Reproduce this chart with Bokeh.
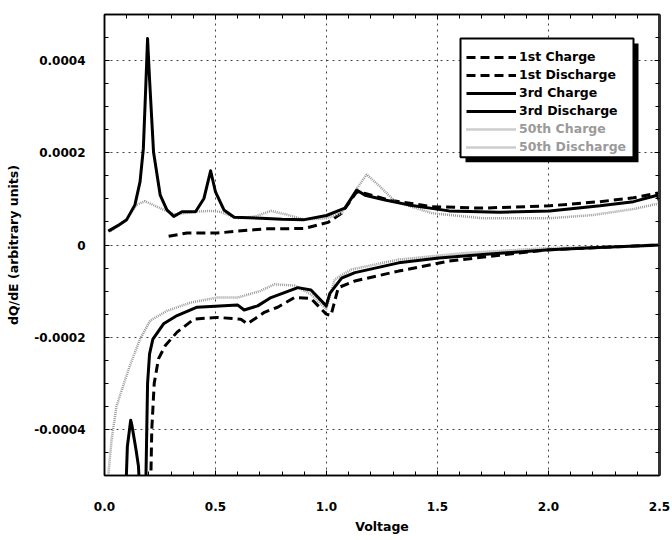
from bokeh.plotting import figure
from bokeh.models import (FixedTicker, LinearAxis, Range1d, Legend, LegendItem,
                          BoxAnnotation, NumeralTickFormatter, CustomJSTickFormatter)
from bokeh.embed import file_html
from bokeh.resources import INLINE

# ---------------- data (Voltage, dQ/dE) ----------------
ch1_v = [0.289, 0.372, 0.508, 0.60, 0.72, 0.80, 0.90, 1.007, 1.068, 1.136, 1.174,
         1.28, 1.476, 1.703, 2.005, 2.232, 2.383, 2.497]
ch1_q = [0.000019, 0.000026, 0.000026, 0.000030, 0.000035, 0.000035, 0.000036,
         0.000049, 0.000069, 0.000115, 0.000112, 0.0000975, 0.000083, 0.000080,
         0.000085, 0.000094, 0.0001025, 0.000113]

dis1_v = [0.205, 0.209, 0.213, 0.224, 0.243, 0.274, 0.327, 0.402, 0.508, 0.614, 0.644,
          0.72, 0.78, 0.856, 0.93, 0.999, 1.02, 1.053, 1.128, 1.325, 1.552, 1.779,
          2.005, 2.25, 2.5]
dis1_q = [-0.00055, -0.00050, -0.00040, -0.00030, -0.000247, -0.000218, -0.000189,
          -0.000161, -0.000157, -0.000161, -0.000171, -0.000146, -0.000135, -0.000114,
          -0.000116, -0.000150, -0.000153, -0.0000925, -0.000078, -0.0000566,
          -0.000035, -0.0000222, -0.0000101, -0.000005, 0.0]

ch3_v = [0.017, 0.06, 0.10, 0.137, 0.16, 0.175, 0.186, 0.194, 0.203, 0.221, 0.251,
         0.281, 0.312, 0.349, 0.41, 0.448, 0.478, 0.50, 0.538, 0.584, 0.705, 0.80,
         0.90, 1.0, 1.083, 1.136, 1.174, 1.264, 1.37, 1.552, 1.779, 2.005, 2.232,
         2.383, 2.49, 2.5]
ch3_q = [0.000030, 0.000042, 0.000055, 0.000087, 0.000137, 0.000209, 0.000345,
         0.000448, 0.000359, 0.000201, 0.000108, 0.000076, 0.000062, 0.000072,
         0.000072, 0.000101, 0.000161, 0.000115, 0.000076, 0.000060, 0.000058,
         0.000056, 0.000055, 0.000064, 0.000080, 0.000119, 0.000108, 0.0000975,
         0.000087, 0.000074, 0.000071, 0.000074, 0.000085, 0.000094, 0.000108,
         0.000095]

dis3_v = [0.095, 0.103, 0.118, 0.123, 0.142, 0.153, 0.16, 0.185, 0.187, 0.194, 0.203,
          0.218, 0.266, 0.327, 0.417, 0.599, 0.629, 0.69, 0.75, 0.871, 0.93, 0.999,
          1.015, 1.068, 1.128, 1.325, 1.506, 1.703, 2.005, 2.2, 2.5]
dis3_q = [-0.00055, -0.000437, -0.000380, -0.000390, -0.000444, -0.000480, -0.00055,
          -0.00055, -0.000497, -0.000300, -0.000236, -0.000204, -0.000171, -0.000153,
          -0.000135, -0.000130, -0.000141, -0.000132, -0.000114, -0.0000925,
          -0.0000975, -0.000132, -0.000105, -0.000072, -0.000060, -0.0000387,
          -0.000028, -0.0000208, -0.0000101, -0.000006, 0.0]

ch50_v = [0.027, 0.06, 0.099, 0.144, 0.182, 0.264, 0.317, 0.40, 0.478, 0.52, 0.60,
          0.68, 0.75, 0.82, 0.90, 1.0, 1.068, 1.136, 1.181, 1.234, 1.31, 1.476,
          1.703, 2.005, 2.2, 2.383, 2.497]
ch50_q = [0.000030, 0.000042, 0.000055, 0.000087, 0.000095, 0.000077, 0.000066,
          0.000072, 0.000074, 0.000072, 0.000058, 0.000062, 0.000074, 0.000066,
          0.000055, 0.000058, 0.000069, 0.000122, 0.000153, 0.000130, 0.000094,
          0.000069, 0.000058, 0.000058, 0.000065, 0.000078, 0.000090]

dis50_v = [0.012, 0.017, 0.032, 0.054, 0.085, 0.115, 0.16, 0.206, 0.281, 0.387, 0.508,
           0.6, 0.70, 0.765, 0.856, 0.93, 0.999, 1.037, 1.113, 1.325, 1.627, 2.005,
           2.44, 2.5]
dis50_q = [-0.00055, -0.00050, -0.000422, -0.000350, -0.000304, -0.000261, -0.000204,
           -0.000164, -0.000143, -0.000125, -0.000114, -0.000114, -0.000100,
           -0.0000853, -0.000088, -0.000107, -0.000139, -0.0000746, -0.000053,
           -0.0000316, -0.0000172, -0.0000065, -0.0000029, 0.0]

x_major = [0.0, 0.5, 1.0, 1.5, 2.0, 2.5]
y_major = [-0.0004, -0.0002, 0.0, 0.0002, 0.0004]
y_labels = ["-0.0004", "-0.0002", "0", "0.0002", "0.0004"]
x_minor = [i / 10 for i in range(0, 26)]
y_minor = [i * 0.00005 for i in range(-10, 11)]

# ---------------- figure ----------------
FONT = "DejaVu Sans"
X0, X1, Y0, Y1 = 0.0, 2.5, -0.0005, 0.0005
OFF = 2                      # observed page offset of the canvas
W, H = 670, 536
BL, BR, BT, BB = 104, 11, 14, 60

p = figure(width=W, height=H, x_range=Range1d(X0, X1), y_range=Range1d(Y0, Y1),
           output_backend="svg", toolbar_location=None,
           min_border_left=BL, min_border_right=BR, min_border_top=BT,
           min_border_bottom=BB, background_fill_color="white",
           border_fill_color="white")
p.outline_line_color = "black"
p.outline_line_width = 1.5

xt = FixedTicker(ticks=x_major, minor_ticks=x_minor)
yt = FixedTicker(ticks=y_major, minor_ticks=y_minor)

xa = p.xaxis[0]
xa.ticker = xt
xa.formatter = NumeralTickFormatter(format="0.0")
xa.axis_label = "Voltage"
ya = p.yaxis[0]
ya.ticker = yt
ya.major_label_overrides = dict(zip(y_major, y_labels))
ya.axis_label = "dQ/dE (arbitrary units)"

for ax in (xa, ya):
    ax.axis_line_color = "black"
    ax.axis_line_width = 1.5
    ax.major_tick_out = 0
    ax.major_tick_in = 5
    ax.minor_tick_out = 0
    ax.minor_tick_in = 4
    ax.major_tick_line_color = "black"
    ax.minor_tick_line_color = "black"
    ax.major_label_text_font = FONT
    ax.major_label_text_font_style = "bold"
    ax.major_label_text_font_size = "12px"
    ax.major_label_text_color = "black"
    ax.axis_label_text_font = FONT
    ax.axis_label_text_font_style = "bold"
    ax.axis_label_text_font_size = "12.5px"
    ax.axis_label_text_color = "black"
xa.major_label_standoff = 26
xa.axis_label_standoff = 5
ya.major_label_standoff = 19
ya.axis_label_standoff = 10

blank = CustomJSTickFormatter(code="return ''")
top = LinearAxis(ticker=xt, formatter=blank, major_label_standoff=0,
                 major_tick_out=0, major_tick_in=5, minor_tick_out=0, minor_tick_in=4,
                 axis_line_width=1.5)
right = LinearAxis(ticker=yt, formatter=blank, major_label_standoff=0,
                   major_tick_out=0, major_tick_in=5, minor_tick_out=0, minor_tick_in=4,
                   axis_line_width=3, axis_line_color="#333333")
p.add_layout(top, "above")
p.add_layout(right, "right")

p.xgrid[0].ticker = xt
p.ygrid[0].ticker = yt
for g in (p.xgrid[0], p.ygrid[0]):
    g.grid_line_color = "#444444"
    g.grid_line_dash = "2 4"
    g.grid_line_width = 1

# ---------------- curves ----------------
r_ch1 = p.line(ch1_v, ch1_q, line_color="black", line_width=3, line_dash="9 5")
r_dis1 = p.line(dis1_v, dis1_q, line_color="black", line_width=3, line_dash="9 5")
r_ch50 = p.line(ch50_v, ch50_q, line_color="#9a9a9a", line_width=2.5, line_dash="1 1")
r_dis50 = p.line(dis50_v, dis50_q, line_color="#9a9a9a", line_width=2.5, line_dash="1 1")
r_ch3 = p.line(ch3_v, ch3_q, line_color="black", line_width=3, line_join="round")
r_dis3 = p.line(dis3_v, dis3_q, line_color="black", line_width=3, line_join="round")

# ---------------- legend box with shadow ----------------
FL_PX, FR_PX, FT_PX, FB_PX = OFF + BL, OFF + W - BR, OFF + BT, OFF + H - BB


def px2x(px):
    return X0 + (px - FL_PX) / (FR_PX - FL_PX) * (X1 - X0)


def px2y(py):
    return Y1 - (py - FT_PX) / (FB_PX - FT_PX) * (Y1 - Y0)


BOX_L, BOX_R, BOX_T, BOX_B, SH = 462, 635, 40, 159, 5
p.add_layout(BoxAnnotation(left=px2x(BOX_L + SH), right=px2x(BOX_R + SH),
                           top=px2y(BOX_T + SH), bottom=px2y(BOX_B + SH),
                           fill_color="black", fill_alpha=1.0, line_color=None))
p.add_layout(BoxAnnotation(left=px2x(BOX_L), right=px2x(BOX_R),
                           top=px2y(BOX_T), bottom=px2y(BOX_B),
                           fill_color="white", fill_alpha=1.0, line_color="black",
                           line_width=2, line_alpha=1.0))

ROW = 18
ROW0 = 50.5
leg_common = dict(border_line_color=None, background_fill_alpha=0, padding=0,
                  spacing=0, glyph_width=50, glyph_height=ROW, label_height=ROW,
                  label_standoff=3, label_text_font=FONT, label_text_font_style="bold",
                  label_text_font_size="12.5px", margin=0)
leg_a = Legend(items=[LegendItem(label="1st Charge", renderers=[r_ch1]),
                      LegendItem(label="1st Discharge", renderers=[r_dis1]),
                      LegendItem(label="3rd Charge", renderers=[r_ch3]),
                      LegendItem(label="3rd Discharge", renderers=[r_dis3])],
               location=(468 - FL_PX, FB_PX - (ROW0 + 4 * ROW)),
               label_text_color="black", **leg_common)
leg_b = Legend(items=[LegendItem(label="50th Charge", renderers=[r_ch50]),
                      LegendItem(label="50th Discharge", renderers=[r_dis50])],
               location=(468 - FL_PX, FB_PX - (ROW0 + 6 * ROW)),
               label_text_color="#9a9a9a", **leg_common)
p.add_layout(leg_a)
p.add_layout(leg_b)

open("out.html", "w").write(file_html(p, INLINE))
